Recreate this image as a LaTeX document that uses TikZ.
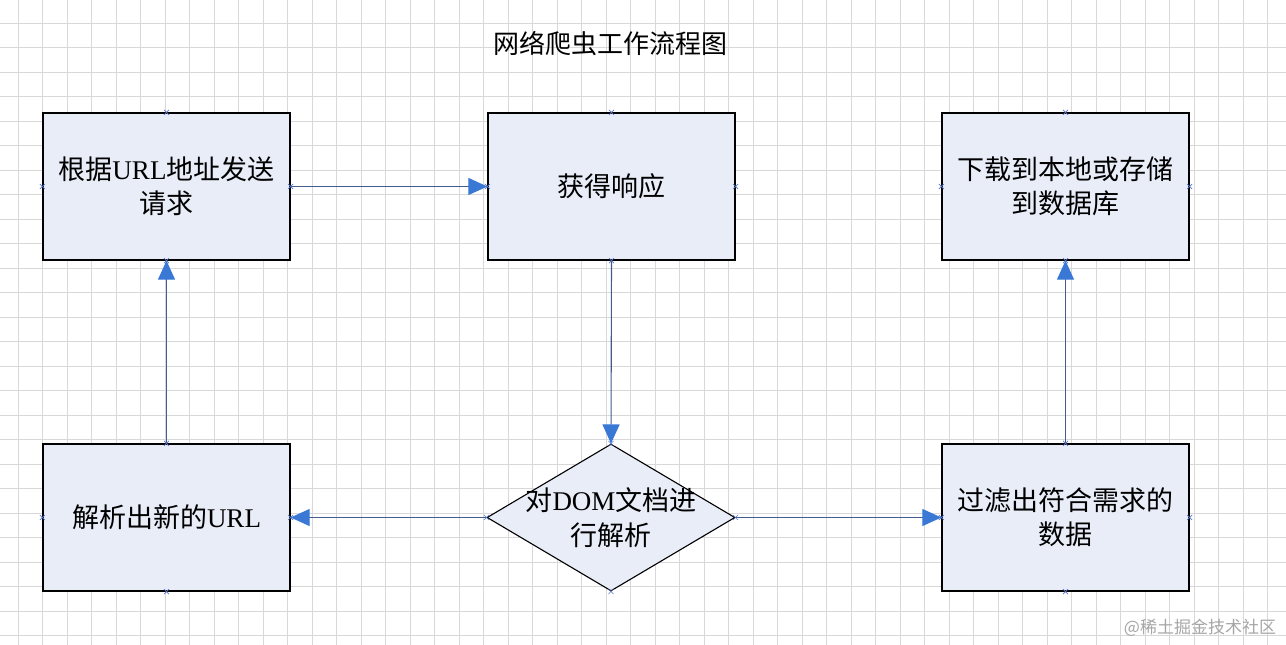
\documentclass[tikz,border=0pt]{standalone}
\usepackage{fontspec}
\setmainfont{Liberation Serif}
\newfontfamily\cjk{Noto Sans CJK SC}
\usetikzlibrary{arrows.meta,shapes.geometric}
\definecolor{gridgray}{RGB}{216,216,216}
\definecolor{boxfill}{RGB}{233,237,248}
\definecolor{linecol}{RGB}{66,92,140}
\definecolor{tipblue}{RGB}{58,120,214}
\definecolor{cpcol}{RGB}{90,120,200}
\tikzset{
  boxnode/.style={draw=black,line width=1.3pt,fill=boxfill,minimum width=247pt,minimum height=147pt,inner sep=0pt,align=center,font=\fontsize{27}{34}\selectfont},
  decnode/.style={diamond,shape aspect=1.687,draw=black,line width=1.1pt,fill=boxfill,minimum width=248pt,minimum height=147pt,inner sep=0pt},
  dectext/.style={align=center,inner sep=0pt,font=\fontsize{27}{35}\selectfont},
  conn/.style={draw=linecol,line width=1.1pt,-{Triangle[length=19pt,width=17pt,color=tipblue]}},
  cpmark/.style={draw=cpcol,line width=0.6pt},
}
\newcommand{\cpx}[1]{\draw[cpmark] (#1) ++(-2.5,-2.5) -- ++(5,5) ++(-5,0) -- ++(5,-5);}
\begin{document}
\begin{tikzpicture}[x=1pt,y=-1pt]
\useasboundingbox (0,0) rectangle (1286,645);
\fill[white] (0,0) rectangle (1286,645);
% grid
\foreach \i in {0,...,52} {\draw[gridgray,line width=0.8pt] (18.3+24.5*\i,0) -- (18.3+24.5*\i,645);}
\foreach \j in {0,...,25} {\draw[gridgray,line width=0.8pt] (0,23+24.5*\j) -- (1286,23+24.5*\j);}
% title
\node[font=\cjk\fontsize{26}{30}\selectfont] (title) at (610,44) {网络爬虫工作流程图};
% nodes
\node[boxnode] (A) at (166.5,186.5) {{\cjk 根据}URL{\cjk 地址发送}\\{\cjk 请求}};
\node[boxnode] (B) at (611.5,186.5) {{\cjk 获得响应}};
\node[boxnode] (C) at (1065.5,186.5) {{\cjk 下载到本地或存储}\\{\cjk 到数据库}};
\node[boxnode] (D) at (166.5,517.5) {{\cjk 解析出新的}URL};
\node[decnode] (E) at (611,517.5) {};
\node[dectext] (Et) at (E.center) {{\cjk 对}DOM{\cjk 文档进}\\{\cjk 行解析}};
\node[boxnode] (F) at (1065.5,517.5) {{\cjk 过滤出符合需求的}\\{\cjk 数据}};
% connectors
\draw[conn] (A.east) -- (B.west);
\draw[conn] (B.south) -- (E.north);
\draw[conn] (E.west) -- (D.east);
\draw[conn] (E.east) -- (F.west);
\draw[conn] (D.north) -- (A.south);
\draw[conn] (F.north) -- (C.south);
% connection points
\foreach \n in {A,B,C,D,E,F} {\foreach \a in {north,south,east,west} {\cpx{\n.\a}}}
% watermark
\node[font=\cjk\fontsize{17}{20}\selectfont,text=gray!70] (wm) at (1200,628) {@稀土掘金技术社区};
\end{tikzpicture}
\end{document}
